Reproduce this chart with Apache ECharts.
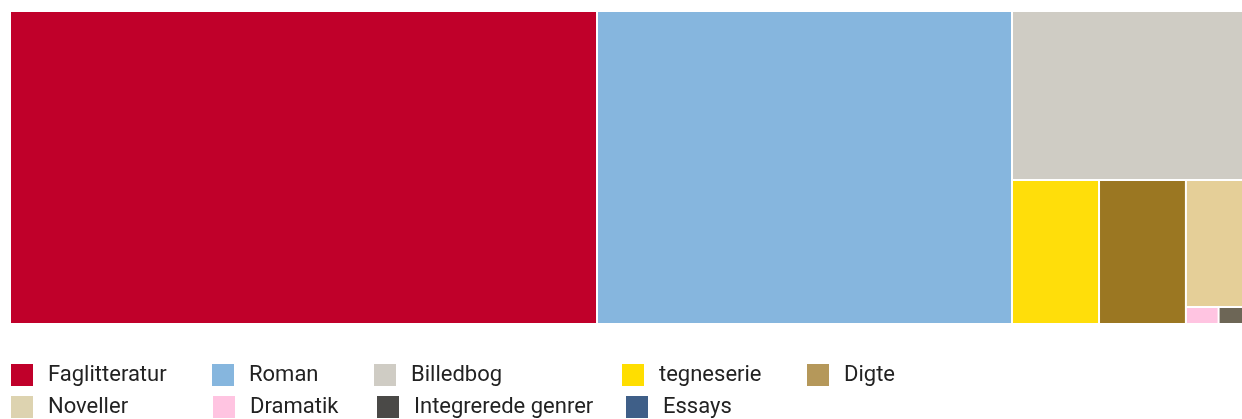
<!DOCTYPE html>
<html>
<head>
<meta charset="utf-8">
<script src="https://cdn.jsdelivr.net/npm/echarts@6/dist/echarts.min.js"></script>
<style>
html,body{margin:0;padding:0;background:#fff;}
#chart{width:1242px;height:419px;}
</style>
</head>
<body>
<div id="chart"></div>
<script>
// Data (share of titles in %)
const categories = ['Faglitteratur','Roman','Billedbog','tegneserie','Digte','Noveller','Dramatik','Integrerede genrer','Essays'];
const values     = [47.57, 33.63, 10.15, 3.245, 3.24, 1.91, 0.144, 0.112, 0];
const treeColors = ['#C0002A','#86B6DE','#CFCCC4','#FFDE0A','#9B7722','#E5CF98','#FFC4E1','#6D6656','#3F5F88'];
const legendColors = ['#C0002A','#86B6DE','#CFCCC4','#FFDE00','#B5985A','#DDD3B0','#FFC4E1','#4A4947','#3F5F88'];
// legend layout slots (left, top)
const legendPos = [[11,364],[212,364],[374,364],[622,364],[807,364],[11,396],[213,396],[377,396],[626,396]];

const chart = echarts.init(document.getElementById('chart'), null, {renderer:'canvas'});

const treeData = categories.map((c,i)=>({name:c, value:values[i], itemStyle:{color:treeColors[i]}})).filter(d=>d.value>0);

const legends = categories.map((c,i)=>({
  data:[c], left:legendPos[i][0], top:legendPos[i][1], padding:0,
  itemWidth:22, itemHeight:22, icon:'rect', selectedMode:false,
  textStyle:{fontFamily:'Roboto', fontSize:22, color:'#222', padding:[5,0,0,10]}
}));

const dummy = categories.map((c,i)=>({name:c, type:'bar', data:[], itemStyle:{color:legendColors[i]}}));

chart.setOption({
  animation:false,
  grid:{show:false, left:0, top:0, width:1, height:1},
  xAxis:{show:false, type:'category', data:[]},
  yAxis:{show:false, type:'value'},
  legend: legends,
  series:[{
    type:'treemap',
    left:11, top:12, right:-1, bottom:96,
    squareRatio:1,
    roam:false, nodeClick:false, breadcrumb:{show:false},
    label:{show:false}, upperLabel:{show:false},
    itemStyle:{borderWidth:0, gapWidth:2, borderColor:'#fff'},
    levels:[{itemStyle:{borderWidth:0, gapWidth:2, borderColor:'#fff'}}],
    data:treeData
  }].concat(dummy)
});
</script>
</body>
</html>
